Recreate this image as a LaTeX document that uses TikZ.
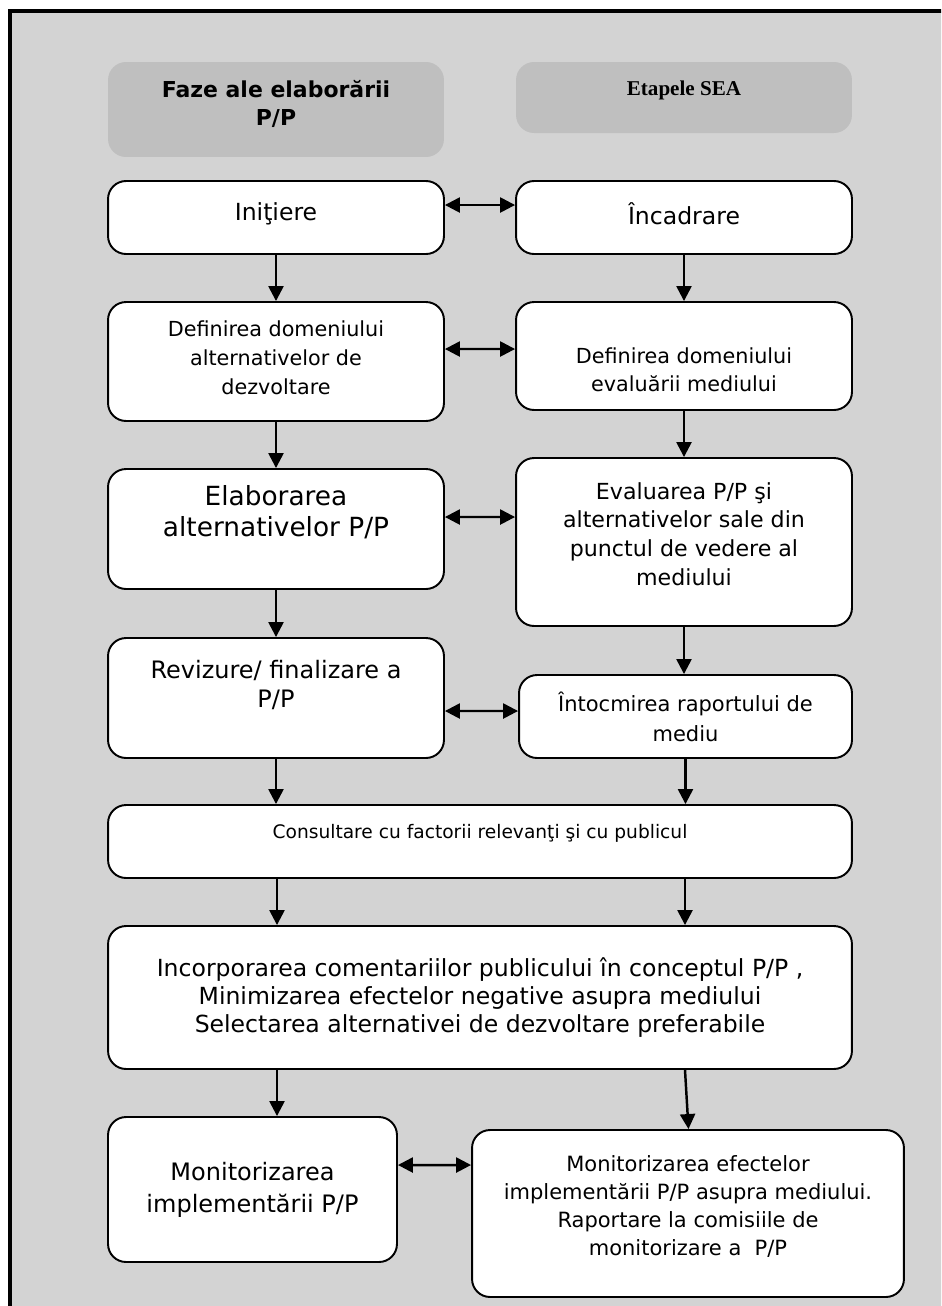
\documentclass[tikz,border=0pt]{standalone}
\usepackage{fontspec}
\setmainfont{DejaVu Sans}
\newfontfamily\headserif{Liberation Serif}
\usetikzlibrary{arrows.meta}

\definecolor{framegray}{RGB}{211,211,211}
\definecolor{headgray}{RGB}{191,191,191}

\tikzset{
  box/.style={draw=black, line width=1.1pt, fill=white, rounded corners=0.36cm, inner sep=0pt},
  headbox/.style={fill=headgray, rounded corners=0.36cm, inner sep=0pt},
  txt/.style={align=center, inner sep=0pt},
  flow/.style={line width=1.4pt, -{Triangle[length=0.3cm,width=0.3cm]}},
  link/.style={line width=1.4pt, {Triangle[length=0.3cm,width=0.3cm]}-{Triangle[length=0.3cm,width=0.3cm]}}
}

\begin{document}
\begin{tikzpicture}[x=0.02cm,y=-0.02cm]

  \clip (0,0) rectangle (941,1306);
  \draw[fill=framegray, line width=2.3pt] (10,11) rectangle (960,1330);

  % column headers
  \node[headbox, minimum width=6.72cm, minimum height=1.9cm] at(276,109.5)(hdrL){};
  \node[headbox, minimum width=6.72cm, minimum height=1.42cm] at(684,97.5)(hdrR){};
  \node[txt, font=\bfseries\fontsize{12.5}{15.5}\selectfont] at([yshift=0.11cm]hdrL)(hdrLT){Faze ale elaborării\\P/P};
  \node[txt, font=\headserif\bfseries\fontsize{12}{14}\selectfont] at([yshift=0.15cm]hdrR)(hdrRT){Etapele SEA};

  % Boxes
  \node[box, minimum width=6.72cm, minimum height=1.46cm] at(276,217.5)(init){};
  \node[box, minimum width=6.72cm, minimum height=1.46cm] at(684,217.5)(incad){};
  \node[box, minimum width=6.72cm, minimum height=2.38cm] at(276,361.5)(defalt){};
  \node[box, minimum width=6.72cm, minimum height=2.16cm] at(684,356)(defeval){};
  \node[box, minimum width=6.72cm, minimum height=2.4cm] at(276,529)(elab){};
  \node[box, minimum width=6.72cm, minimum height=3.36cm] at(684,542)(eval){};
  \node[box, minimum width=6.72cm, minimum height=2.4cm] at(276,698)(rev){};
  \node[box, minimum width=6.66cm, minimum height=1.66cm] at(685.5,716.5)(intoc){};
  \node[box, minimum width=14.88cm, minimum height=1.46cm] at(480,841.5)(cons){};
  \node[box, minimum width=14.88cm, minimum height=2.86cm] at(480,997.5)(incorp){};
  \node[box, minimum width=5.78cm, minimum height=2.9cm] at(252.5,1189.5)(monL){};
  \node[box, minimum width=8.64cm, minimum height=3.34cm] at(688,1213.5)(monR){};

  % Texts
  \node[txt, font=\fontsize{13.4}{17}\selectfont] at([yshift=0.08cm]init)(initT){Iniţiere};
  \node[txt, font=\fontsize{13.4}{17}\selectfont] at([yshift=0.08cm]incad)(incadT){Încadrare};
  \node[txt, font=\fontsize{11.8}{16.5}\selectfont] at([yshift=0.08cm]defalt)(defaltT){Definirea domeniului\\alternativelor de\\dezvoltare};
  \node[txt, font=\fontsize{11.8}{16}\selectfont] at([yshift=-0.28cm]defeval)(defevalT){Definirea domeniului\\evaluării mediului};
  \node[txt, font=\fontsize{15}{17.5}\selectfont] at([yshift=0.34cm]elab)(elabT){Elaborarea\\alternativelor P/P};
  \node[txt, font=\fontsize{12.6}{16.4}\selectfont] at([yshift=0.16cm]eval)(evalT){Evaluarea P/P şi\\alternativelor sale din\\punctul de vedere al\\mediului};
  \node[txt, font=\fontsize{13.66}{17}\selectfont] at([yshift=0.26cm]rev)(revT){Revizure/ finalizare a\\P/P};
  \node[txt, font=\fontsize{11.95}{17}\selectfont] at(intoc)(intocT){Întocmirea raportului de\\mediu};
  \node[txt, font=\fontsize{10.6}{12}\selectfont] at([yshift=0.16cm]cons)(consT){Consultare cu factorii relevanţi şi cu publicul};
  \node[txt, font=\fontsize{13.4}{15.9}\selectfont] at(incorp)(incorpT){Incorporarea comentariilor publicului în conceptul P/P ,\\Minimizarea efectelor negative asupra mediului\\Selectarea alternativei de dezvoltare preferabile};
  \node[txt, font=\fontsize{13.66}{18.2}\selectfont] at(monL)(monLT){Monitorizarea\\implementării P/P};
  \node[txt, font=\fontsize{11.95}{15.9}\selectfont] at([yshift=0.14cm]monR)(monRT){Monitorizarea efectelor\\implementării P/P asupra mediului.\\Raportare la comisiile de\\monitorizare a\ \ P/P};

  % arrow columns
  \coordinate (colL) at (277,0);
  \coordinate (colR) at (685,0);

  % down arrows
  \draw[flow] (init) -- (defalt);
  \draw[flow] (incad) -- (defeval);
  \draw[flow] (defalt) -- (elab);
  \draw[flow] (defeval) -- (eval);
  \draw[flow] (elab) -- (rev);
  \draw[flow] (eval.south) -- (eval.south |- intoc.north);
  \draw[flow] (rev.south) -- (rev.south |- cons.north);
  \draw[flow] (intoc.south) -- (intoc.south |- cons.north);
  \draw[flow] (colL |- cons.south) -- (colL |- incorp.north);
  \draw[flow] (colR |- cons.south) -- (colR |- incorp.north);
  \draw[flow] (colL |- incorp.south) -- (colL |- monL.north);
  \draw[flow] (colR |- incorp.south) -- ([xshift=0.07cm]colR |- monR.north);

  % both way arrows
  \draw[link] ([yshift=0.25cm]init.east) -- ([yshift=0.25cm]incad.west);
  \draw[link] ([yshift=0.25cm]defalt.east) -- ([yshift=0.14cm]defeval.west);
  \draw[link] ([yshift=0.24cm]elab.east) -- ([yshift=0.5cm]eval.west);
  \draw[link] ([yshift=-0.26cm]rev.east) -- ([yshift=0.11cm]intoc.west);
  \draw[link] ([yshift=0.49cm]monL.east) -- ([yshift=0.97cm]monR.west);

\end{tikzpicture}
\end{document}
